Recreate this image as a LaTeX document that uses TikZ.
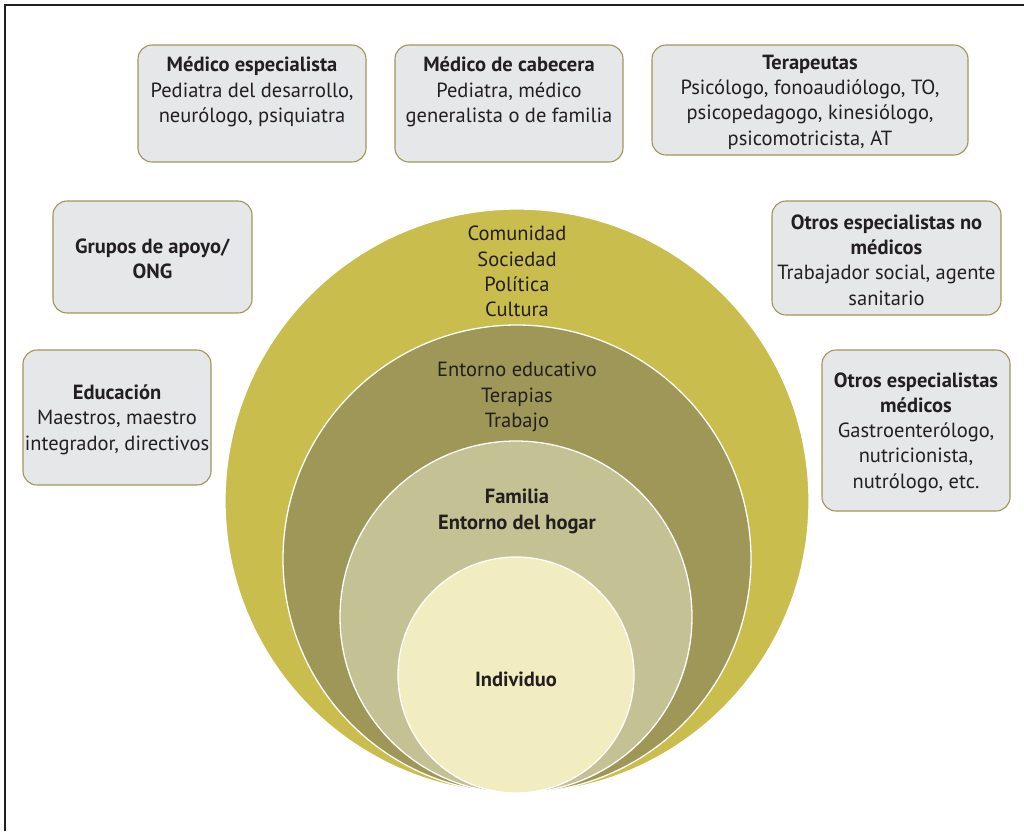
\documentclass[tikz,border=0pt]{standalone}
\usepackage{fontspec}
\setmainfont{PT Sans}
\usepackage{tikz}
\usetikzlibrary{shapes,positioning}

\definecolor{anillo1}{HTML}{C9BD4E}
\definecolor{anillo2}{HTML}{9E9757}
\definecolor{anillo3}{HTML}{C4C194}
\definecolor{anillo4}{HTML}{F2EDC0}
\definecolor{cajafondo}{HTML}{E6E7E8}
\definecolor{cajaborde}{HTML}{A09658}
\definecolor{texto}{HTML}{231F20}

\tikzset{
  caja/.style={draw=cajaborde, fill=cajafondo, line width=1.1pt, rounded corners=14pt, rectangle},
  txt/.style={align=center, text=texto, font=\fontsize{20.5}{25.3}\selectfont, inner sep=0pt, yshift=-2pt},
  anillo/.style={circle, draw=white, line width=1.3pt, inner sep=0pt},
}

\begin{document}
\begin{tikzpicture}[x=1pt,y=-1pt]
\useasboundingbox (0,0) rectangle (1024,831);
\draw[texto, line width=1.3pt] (5,831) -- (5,5) -- (1024,5);

% circulos
\node[anillo, fill=anillo1, minimum size=584pt] (comunidad) at (517,501) {};
\node[anillo, fill=anillo2, minimum size=468pt] (entorno) at (517,559) {};
\node[anillo, fill=anillo3, minimum size=352pt] (familia) at (516,617) {};
\node[anillo, fill=anillo4, minimum size=236pt] (individuo) at (516,675) {};

\node[txt] (tcomunidad) at (517,269.5) {Comunidad\\Sociedad\\Política\\Cultura};
\node[txt] (tentorno) at (517,395) {Entorno educativo\\Terapias\\Trabajo};
\node[txt, font=\fontsize{20.5}{25.3}\selectfont\bfseries] (tfamilia) at (517,509.5) {Familia\\Entorno del hogar};
\node[txt, font=\fontsize{20.5}{25.3}\selectfont\bfseries] (tindividuo) at (516,677) {Individuo};

% cajas
\node[caja, minimum width=228pt, minimum height=117pt] (espec) at (252,103.5) {};
\node[txt] (tespec) at ([yshift=13.5pt]espec.center) {\textbf{Médico especialista}\\Pediatra del desarrollo,\\neurólogo, psiquiatra};

\node[caja, minimum width=228pt, minimum height=117pt] (cabec) at (509,103.5) {};
\node[txt] (tcabec) at ([yshift=13.5pt]cabec.center) {\textbf{Médico de cabecera}\\Pediatra, médico\\generalista o de familia};

\node[caja, minimum width=316pt, minimum height=110pt] (terap) at (810,100) {};
\node[txt] (tterap) at (terap) {\textbf{Terapeutas}\\Psicólogo, fonoaudiólogo, TO,\\psicopedagogo, kinesiólogo,\\psicomotricista, AT};

\node[caja, minimum width=199pt, minimum height=112pt] (grupos) at (152.5,257) {};
\node[txt] (tgrupos) at (grupos) {\textbf{Grupos de apoyo/}\\\textbf{ONG}};

\node[caja, minimum width=188pt, minimum height=135pt] (educ) at (117,417.5) {};
\node[txt] (teduc) at (educ) {\textbf{Educación}\\Maestros, maestro\\integrador, directivos};

\node[caja, minimum width=229pt, minimum height=114pt] (nomed) at (886.5,258) {};
\node[txt] (tnomed) at (nomed) {\textbf{Otros especialistas no}\\\textbf{médicos}\\Trabajador social, agente\\sanitario};

\node[caja, minimum width=188pt, minimum height=161pt] (med) at (916,430.5) {};
\node[txt] (tmed) at (med) {\textbf{Otros especialistas}\\\textbf{médicos}\\Gastroenterólogo,\\nutricionista,\\nutrólogo, etc.};
\end{tikzpicture}
\end{document}
